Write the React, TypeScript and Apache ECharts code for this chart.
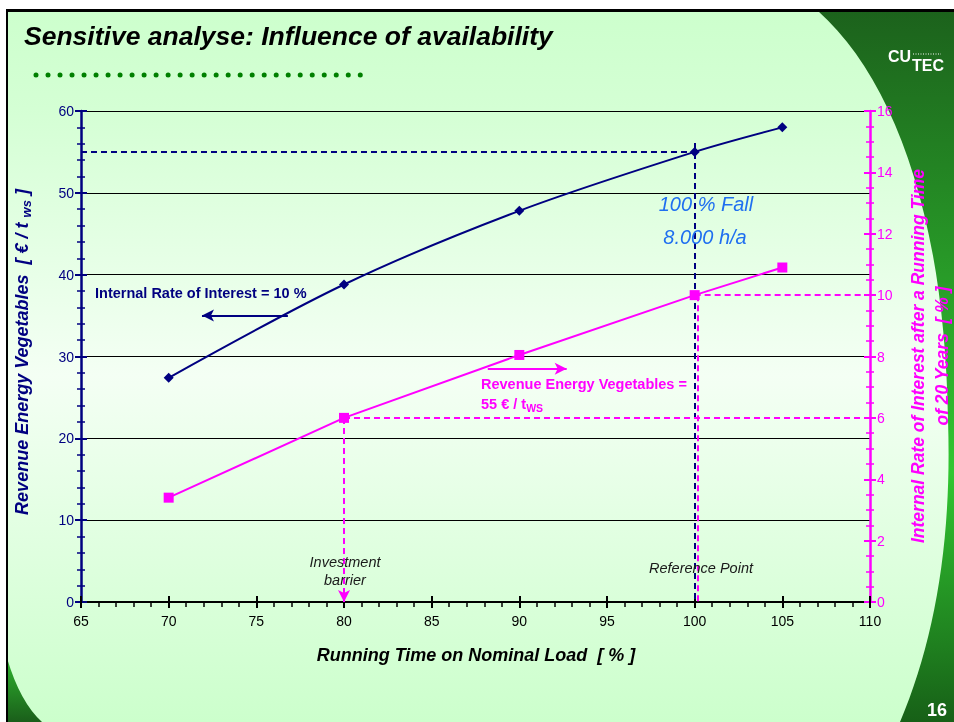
import React, { useEffect, useRef } from "react";
import * as echarts from "echarts";

// ---------- data ----------
const runningTime = [70, 80, 90, 100, 105];
const revenueAtIRR10 = [27.4, 38.8, 47.8, 55.0, 58.0]; // € / t_ws (left axis)
const irrAtRevenue55 = [3.4, 6.0, 8.05, 10.0, 10.9]; // % (right axis)

const xTicks = { min: 65, max: 110, interval: 5 };
const leftTicks = { min: 0, max: 60, interval: 10 };
const rightTicks = { min: 0, max: 16, interval: 2 };

const referenceTime = 100;
const referenceRevenue = 55;
const referenceIRR = 10;
const barrierTime = 80;
const barrierIRR = 6;
const navyArrow = { from: [76.8, 35], to: [71.9, 35] };
const pinkArrow = { from: [88.2, 7.6], to: [92.7, 7.6] };

const NAVY = "#000080";
const PINK = "#ff00ff";
const FONT = 'Arial, "Liberation Sans", sans-serif';

const darkPath =
  "M 818 11 C 895 80, 945 220, 948 420 C 952 540, 935 640, 900 722 L 954 722 L 954 11 Z";
const cornerPath = "M 7 658 Q 20 702 42 722 L 7 722 Z";

export default function App() {
  const ref = useRef<HTMLDivElement>(null);
  useEffect(() => {
    if (!ref.current) return;
    echarts.graphic.registerShape("darkband", echarts.graphic.extendPath(darkPath, {}));
    echarts.graphic.registerShape("darkcorner", echarts.graphic.extendPath(cornerPath, {}));
    const chart = echarts.init(ref.current, null, { renderer: "svg" });

    const navyData = runningTime.map((x, i) => [x, revenueAtIRR10[i]]);
    const pinkData = runningTime.map((x, i) => [x, irrAtRevenue55[i]]);

    const text = (x: number, y: number, t: string, extra: any = {}, z = 100) => ({
      type: "text",
      x,
      y,
      z,
      style: {
        text: t,
        fontFamily: FONT,
        fontSize: 14.5,
        fill: "#000",
        textAlign: "left",
        textVerticalAlign: "middle",
        align: "left",
        verticalAlign: "middle",
        ...extra,
      },
    });

    const greenGrad = {
      type: "linear",
      x: 0,
      y: 0,
      x2: 0,
      y2: 1,
      colorStops: [
        { offset: 0, color: "#1c621c" },
        { offset: 0.65, color: "#31c631" },
        { offset: 1, color: "#176017" },
      ],
    };

    const baseY = (side: "left" | "right", inside: boolean, r: any, color: string, minorSplit: number) => ({
      type: "value",
      position: side,
      min: r.min,
      max: r.max,
      interval: r.interval,
      axisLine: { show: !inside, lineStyle: { color, width: 2.5 } },
      axisTick: { show: true, inside, length: 6, lineStyle: { color, width: 2 } },
      minorTick: { show: true, splitNumber: minorSplit, length: 4, lineStyle: { color, width: 1.5 } },
      axisLabel: {
        show: !inside,
        color,
        fontSize: 14,
        fontFamily: FONT,
        margin: 7,
      },
      splitLine: { show: false },
      minorSplitLine: { show: false },
    });

    const leftMain: any = baseY("left", false, leftTicks, NAVY, 5);
    leftMain.splitLine = { show: true, lineStyle: { color: "#000", width: 1 } };

    const option: any = {
      animation: false,
      backgroundColor: "transparent",
      grid: { left: 81, right: 84, top: 111, bottom: 120, outerBoundsMode: "none" },
      xAxis: [
        {
          type: "value",
          position: "bottom",
          min: xTicks.min,
          max: xTicks.max,
          interval: xTicks.interval,
          axisLine: { lineStyle: { color: "#000", width: 2 } },
          axisTick: { show: true, length: 6, lineStyle: { color: "#000", width: 2 } },
          minorTick: { show: true, splitNumber: 5, length: 5, lineStyle: { color: "#000", width: 1.5 } },
          axisLabel: { color: "#000", fontSize: 14, fontFamily: FONT, margin: 12 },
          splitLine: { show: false },
          minorSplitLine: { show: false },
        },
        {
          type: "value",
          position: "bottom",
          min: xTicks.min,
          max: xTicks.max,
          interval: xTicks.interval,
          axisLine: { show: false },
          axisTick: { show: true, inside: true, length: 6, lineStyle: { color: "#000", width: 2 } },
          minorTick: { show: false },
          axisLabel: { show: false },
          splitLine: { show: false },
        },
      ],
      yAxis: [
        leftMain,
        baseY("right", false, rightTicks, PINK, 4),
        baseY("left", true, leftTicks, NAVY, 5),
        baseY("right", true, rightTicks, PINK, 4),
      ],
      series: [
        {
          type: "line",
          name: "Revenue at IRR 10 %",
          xAxisIndex: 0,
          yAxisIndex: 0,
          data: navyData,
          smooth: 0.3,
          symbol: "diamond",
          symbolSize: 10,
          itemStyle: { color: NAVY },
          lineStyle: { color: NAVY, width: 2 },
          z: 5,
          markLine: {
            silent: true,
            animation: false,
            symbol: ["none", "none"],
            label: { show: false },
            lineStyle: { color: NAVY, width: 2, type: [6, 4] },
            emphasis: { disabled: true },
            data: [
              [{ coord: [xTicks.min, referenceRevenue] }, { coord: [referenceTime, referenceRevenue] }],
              [{ coord: [referenceTime, referenceRevenue + 1.1] }, { coord: [referenceTime, 0] }],
              [
                { coord: navyArrow.from, lineStyle: { type: "solid", width: 2, color: NAVY } },
                { coord: navyArrow.to, symbol: "arrow", symbolSize: [9, 12] },
              ],
            ],
          },
        },
        {
          type: "line",
          name: "IRR at 55 €/t",
          xAxisIndex: 0,
          yAxisIndex: 1,
          data: pinkData,
          symbol: "rect",
          symbolSize: 10,
          itemStyle: { color: PINK },
          lineStyle: { color: PINK, width: 2 },
          z: 5,
          markLine: {
            silent: true,
            animation: false,
            symbol: ["none", "none"],
            label: { show: false },
            lineStyle: { color: PINK, width: 2, type: [6, 4] },
            emphasis: { disabled: true },
            data: [
              [{ coord: [referenceTime, referenceIRR] }, { coord: [xTicks.max, referenceIRR] }],
              [{ coord: [referenceTime + 0.15, referenceIRR] }, { coord: [referenceTime + 0.15, 0] }],
              [{ coord: [barrierTime, barrierIRR] }, { coord: [xTicks.max, barrierIRR] }],
              [
                { coord: [barrierTime, barrierIRR] },
                { coord: [barrierTime, 0], symbol: "arrow", symbolSize: [9, 12] },
              ],
              [
                { coord: pinkArrow.from, lineStyle: { type: "solid", width: 2, color: PINK } },
                { coord: pinkArrow.to, symbol: "arrow", symbolSize: [9, 12] },
              ],
            ],
          },
        },
      ],
      graphic: [
        // background
        {
          type: "rect",
          z: -100,
          silent: true,
          shape: { x: 0, y: 0, width: 954, height: 722 },
          style: {
            fill: {
              type: "linear",
              x: 0,
              y: 0,
              x2: 0,
              y2: 1,
              colorStops: [
                { offset: 0, color: "#ccffcc" },
                { offset: 0.15, color: "#d4ffd4" },
                { offset: 0.52, color: "#f4fff4" },
                { offset: 0.85, color: "#d8ffd8" },
                { offset: 1, color: "#ccffcc" },
              ],
            },
          },
        },
        { type: "darkband", z: -90, silent: true, x: 0, y: 0, style: { fill: greenGrad } },
        {
          type: "darkcorner",
          z: -90,
          silent: true,
          x: 0,
          y: 0,
          style: {
            fill: {
              type: "linear",
              x: 0,
              y: 0,
              x2: 0,
              y2: 1,
              colorStops: [
                { offset: 0, color: "#2fb52f" },
                { offset: 1, color: "#1a5e1a" },
              ],
            },
          },
        },
        { type: "rect", z: -80, silent: true, shape: { x: 0, y: 0, width: 954, height: 9 }, style: { fill: "#fff" } },
        { type: "rect", z: -80, silent: true, shape: { x: 0, y: 0, width: 6, height: 722 }, style: { fill: "#fff" } },
        { type: "rect", z: -79, silent: true, shape: { x: 6, y: 9, width: 948, height: 3 }, style: { fill: "#000" } },
        { type: "rect", z: -79, silent: true, shape: { x: 6, y: 9, width: 2, height: 713 }, style: { fill: "#000" } },
        // title + dotted rule
        text(24, 36, "Sensitive analyse: Influence of availability", {
          fontSize: 26.5,
          fontWeight: "bold",
          fontStyle: "italic",
        }),
        {
          type: "line",
          z: 100,
          silent: true,
          shape: { x1: 36, y1: 75, x2: 363, y2: 75 },
          style: { stroke: "#008000", lineWidth: 5, lineDash: [0.01, 12], lineCap: "round" },
        },
        // logo
        text(888, 56, "CU", { fontSize: 16, fontWeight: "bold", fill: "#fff" }),
        text(912, 65, "TEC", { fontSize: 16, fontWeight: "bold", fill: "#fff" }),
        {
          type: "line",
          z: 100,
          silent: true,
          shape: { x1: 913, y1: 54, x2: 941, y2: 54 },
          style: { stroke: "#fff", lineWidth: 1, lineDash: [1, 1.5] },
        },
        // page number
        text(927, 710, "16", { fontSize: 18, fontWeight: "bold", fill: "#fff" }),
        // axis titles
        text(476, 655, "Running Time on Nominal Load  [ % ]", {
          fontSize: 18,
          fontWeight: "bold",
          fontStyle: "italic",
          textAlign: "center",
          align: "center",
        }),
        {
          type: "text",
          x: 22,
          y: 352,
          z: 100,
          rotation: Math.PI / 2,
          style: {
            text: "{a|Revenue Energy Vegetables  [ € / t }{s|ws}{a| ]}",
            textAlign: "center",
            align: "center",
            textVerticalAlign: "middle",
            verticalAlign: "middle",
            rich: {
              a: {
                fontFamily: FONT,
                fontSize: 18,
                fontWeight: "bold",
                fontStyle: "italic",
                fill: NAVY,
                lineHeight: 22,
              },
              s: {
                fontFamily: FONT,
                fontSize: 13,
                fontWeight: "bold",
                fontStyle: "italic",
                fill: NAVY,
                lineHeight: 13,
                verticalAlign: "bottom",
              },
            },
          },
        },
        {
          type: "text",
          x: 930,
          y: 356,
          z: 100,
          rotation: Math.PI / 2,
          style: {
            text: "Internal Rate of Interest after a Running Time\nof 20 Years  [ % ]",
            fontFamily: FONT,
            fontSize: 17.5,
            fontWeight: "bold",
            fontStyle: "italic",
            fill: PINK,
            lineHeight: 24,
            textAlign: "center",
            align: "center",
            textVerticalAlign: "middle",
            verticalAlign: "middle",
          },
        },
        // annotations
        text(95, 293, "Internal Rate of Interest = 10 %", { fontWeight: "bold", fill: NAVY }),
        text(481, 384, "Revenue Energy Vegetables =", { fontWeight: "bold", fill: PINK }),
        {
          type: "text",
          x: 481,
          y: 404,
          z: 100,
          style: {
            text: "{a|55 € / t}{s|WS}",
            textAlign: "left",
            align: "left",
            textVerticalAlign: "middle",
            verticalAlign: "middle",
            rich: {
              a: { fontFamily: FONT, fontSize: 14.5, fontWeight: "bold", fill: PINK, lineHeight: 18 },
              s: {
                fontFamily: FONT,
                fontSize: 10.5,
                fontWeight: "bold",
                fill: PINK,
                lineHeight: 10,
                verticalAlign: "bottom",
              },
            },
          },
        },
        text(706, 204, "100 % Fall", {
          fontSize: 20,
          fontStyle: "italic",
          fill: "#1f6ff0",
          textAlign: "center",
          align: "center",
        }),
        text(705, 237, "8.000 h/a", {
          fontSize: 20,
          fontStyle: "italic",
          fill: "#1f6ff0",
          textAlign: "center",
          align: "center",
        }),
        text(345, 562, "Investment", {
          fontStyle: "italic",
          fill: "#1a1a1a",
          textAlign: "center",
          align: "center",
        }),
        text(345, 580, "barrier", {
          fontStyle: "italic",
          fill: "#1a1a1a",
          textAlign: "center",
          align: "center",
        }),
        text(701, 568, "Reference Point", {
          fontStyle: "italic",
          fill: "#1a1a1a",
          textAlign: "center",
          align: "center",
        }),
      ],
    };

    chart.setOption(option);
    return () => chart.dispose();
  }, []);

  return (
    <div
      ref={ref}
      style={{ position: "fixed", left: 0, top: 0, width: 954, height: 722 }}
    />
  );
}
